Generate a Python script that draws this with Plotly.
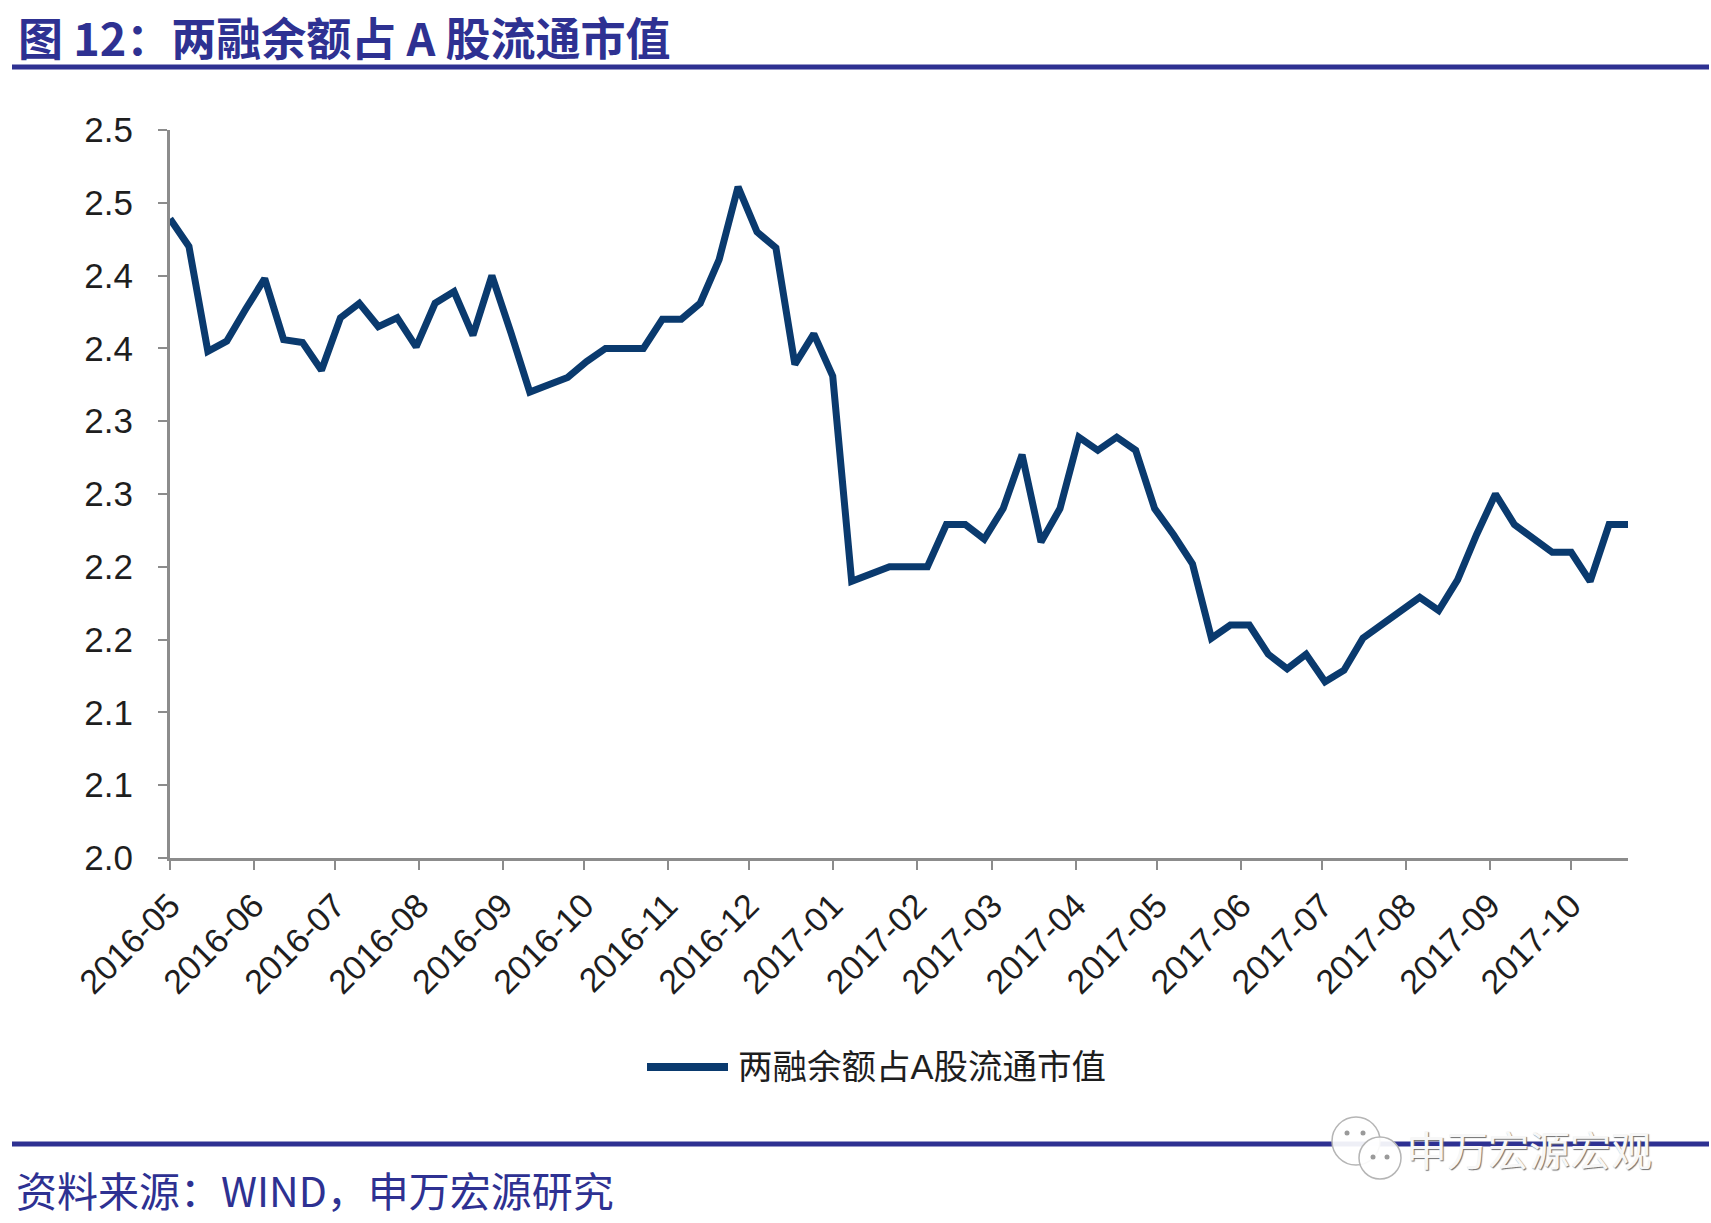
import pandas as pd
import plotly.graph_objects as go

# ---------------- data ----------------
series_name = "两融余额占A股流通市值"
dates = pd.date_range("2016-05-06", periods=78, freq="7D")
values = [
    2.439, 2.420, 2.348, 2.355, 2.377, 2.398, 2.356, 2.354, 2.335, 2.371,
    2.381, 2.365, 2.371, 2.351, 2.381, 2.389, 2.359, 2.400, 2.361, 2.320,
    2.325, 2.330, 2.341, 2.350, 2.350, 2.350, 2.370, 2.370, 2.381, 2.411,
    2.461, 2.430, 2.419, 2.339, 2.360, 2.331, 2.190, 2.195, 2.200, 2.200,
    2.200, 2.229, 2.229, 2.219, 2.240, 2.277, 2.217, 2.240, 2.289, 2.280,
    2.289, 2.280, 2.240, 2.222, 2.202, 2.151, 2.160, 2.160, 2.140, 2.130,
    2.140, 2.121, 2.129, 2.151, 2.160, 2.170, 2.179, 2.170, 2.191, 2.222,
    2.250, 2.229, 2.219, 2.210, 2.210, 2.190, 2.229, 2.229,
]
x_tick_dates = ["2016-05-06", "2016-06-06", "2016-07-06", "2016-08-06", "2016-09-06",
                "2016-10-06", "2016-11-06", "2016-12-06", "2017-01-06", "2017-02-06",
                "2017-03-06", "2017-04-06", "2017-05-06", "2017-06-06", "2017-07-06",
                "2017-08-06", "2017-09-06", "2017-10-06"]
x_tick_labels = ["2016-05", "2016-06", "2016-07", "2016-08", "2016-09", "2016-10",
                 "2016-11", "2016-12", "2017-01", "2017-02", "2017-03", "2017-04",
                 "2017-05", "2017-06", "2017-07", "2017-08", "2017-09", "2017-10"]
y_tick_vals = [2.0, 2.05, 2.1, 2.15, 2.2, 2.25, 2.3, 2.35, 2.4, 2.45, 2.5]
y_tick_labels = ["2.0", "2.1", "2.1", "2.2", "2.2", "2.3", "2.3", "2.4", "2.4", "2.5", "2.5"]

title_text = "图 12：两融余额占 A 股流通市值"
source_text = "资料来源：WIND，申万宏源研究"
watermark_text = "申万宏源宏观"

# ---------------- layout helpers (pixel -> paper) ----------------
W_FIG, H_FIG = 1711, 1223
L, R, T, B = 170, 1628, 130, 858
PW, PH = R - L, B - T


def px(x):
    return (x - L) / PW


def py(y):
    return (B - y) / PH


BLUE = "#2E3192"
LINE = "#0A3A6E"
AXIS = "#8C8C8C"
TXT = "#1E1E1E"
SANS = "Arial, Liberation Sans, Noto Sans CJK SC, sans-serif"
CJK = "Noto Sans CJK SC, sans-serif"

fig = go.Figure()
fig.add_trace(go.Scatter(
    x=dates, y=values, mode="lines", name=series_name,
    line=dict(color=LINE, width=7), showlegend=False,
))

fig.update_layout(
    width=W_FIG, height=H_FIG,
    margin=dict(l=L, r=W_FIG - R, t=T, b=H_FIG - B, autoexpand=False),
    paper_bgcolor="white", plot_bgcolor="white",
    xaxis=dict(
        type="date", range=[dates[0], dates[-1]],
        tickmode="array", tickvals=x_tick_dates, ticktext=x_tick_labels,
        tickangle=-45, ticks="outside", ticklen=9, tickwidth=2, tickcolor=AXIS,
        showline=True, linecolor=AXIS, linewidth=3, showgrid=False, zeroline=False,
        tickfont=dict(family=SANS, size=34, color=TXT), ticklabelstandoff=2,
    ),
    yaxis=dict(
        range=[2.0, 2.5], tickmode="array", tickvals=y_tick_vals, ticktext=y_tick_labels,
        ticks="outside", ticklen=9, tickwidth=2, tickcolor=AXIS,
        showline=True, linecolor=AXIS, linewidth=3, showgrid=False, zeroline=False,
        tickfont=dict(family=SANS, size=35, color=TXT), ticklabelstandoff=18,
    ),
    showlegend=False,
)

shapes = []
annotations = []

# title + rule
annotations.append(dict(
    xref="paper", yref="paper", x=px(16), y=py(36), xanchor="left", yanchor="middle",
    text="<b>" + title_text + "</b>", showarrow=False,
    font=dict(family=CJK, size=45, color=BLUE),
))
shapes.append(dict(type="line", xref="paper", yref="paper",
                   x0=px(12), x1=px(1709), y0=py(67), y1=py(67),
                   line=dict(color=BLUE, width=5)))

# legend (manual, long line sample like the original)
shapes.append(dict(type="line", xref="paper", yref="paper",
                   x0=px(647), x1=px(728), y0=py(1067), y1=py(1067),
                   line=dict(color=LINE, width=8)))
annotations.append(dict(
    xref="paper", yref="paper", x=px(736), y=py(1067), xanchor="left", yanchor="middle",
    text=series_name, showarrow=False,
    font=dict(family=SANS, size=34.5, color=TXT),
))

# bottom rule + source
shapes.append(dict(type="line", xref="paper", yref="paper",
                   x0=px(12), x1=px(1709), y0=py(1144), y1=py(1144),
                   line=dict(color=BLUE, width=5)))
annotations.append(dict(
    xref="paper", yref="paper", x=px(14), y=py(1189), xanchor="left", yanchor="middle",
    text=source_text, showarrow=False,
    font=dict(family=CJK, size=41, color=BLUE),
))

# watermark icon (two speech bubbles)
for cx, cy, r in [(1356, 1141, 24), (1380, 1158, 21)]:
    shapes.append(dict(type="circle", xref="paper", yref="paper",
                       x0=px(cx - r), x1=px(cx + r), y0=py(cy + r), y1=py(cy - r),
                       fillcolor="rgba(255,255,255,0.92)", line=dict(color="#B5B5B5", width=1.5)))
for dx, dy in [(1347, 1133), (1363, 1133), (1373, 1157), (1387, 1157)]:
    shapes.append(dict(type="circle", xref="paper", yref="paper",
                       x0=px(dx - 2.5), x1=px(dx + 2.5), y0=py(dy + 2.5), y1=py(dy - 2.5),
                       fillcolor="#9A9A9A", line=dict(width=0)))
annotations.append(dict(
    xref="paper", yref="paper", x=px(1404), y=py(1148), xanchor="left", yanchor="middle",
    text=watermark_text, showarrow=False,
    font=dict(family=CJK, size=41, color="#F7F7F7", shadow="1px 1px 1px #6E6E6E"),
))

fig.update_layout(shapes=shapes, annotations=annotations)
fig.write_html("out.html")
